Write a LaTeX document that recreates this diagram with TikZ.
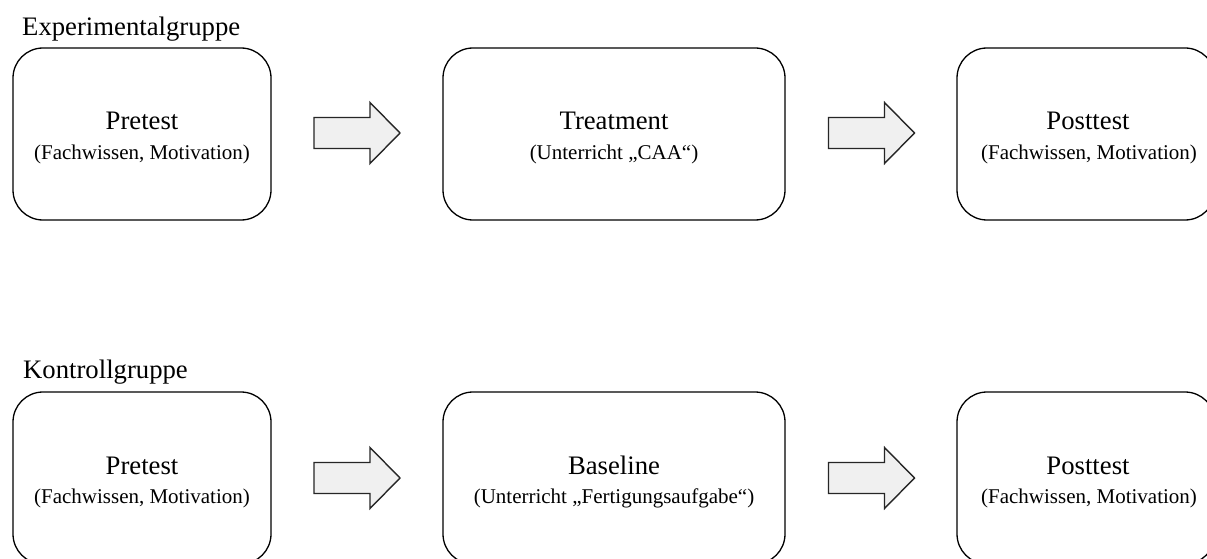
\documentclass[tikz,border=0pt]{standalone}
\usepackage{fontspec}
\setmainfont{Liberation Serif}
\begin{document}
\begin{tikzpicture}[x=1pt,y=-1pt,
  box/.style={draw=black, line width=1.3pt, rounded corners=30pt, minimum width=#1, minimum height=172pt, inner sep=0pt},
  maintxt/.style={font=\fontsize{26.7}{30}\selectfont, inner sep=0pt, anchor=base},
  subtxt/.style={font=\fontsize{21}{25}\selectfont, inner sep=0pt, anchor=base},
  grouptxt/.style={font=\fontsize{26.7}{30}\selectfont, inner sep=0pt, anchor=base west},
  arrowstyle/.style={draw=black!85, fill=black!6, line width=1.4pt, line join=miter},
  blockarrow/.pic={\draw[arrowstyle] (43,0) -- (13,-30.5) -- (13,-15.5) -- (-43,-15.5) -- (-43,15.5) -- (13,15.5) -- (13,30.5) -- cycle;}
]
\clip (0,0) rectangle (1207,559);
\fill[white] (0,0) rectangle (1207,559);

% Experimentalgruppe
\node[grouptxt] (g1) at (22,36) {Experimentalgruppe};
\node[box=258pt] (e1) at (142,134) {};
\node[box=342pt] (e2) at (614,134) {};
\node[box=258pt] (e3) at (1086,134) {};
\node[maintxt] (e1m) at (e1.center |- 0,130) {Pretest};
\node[subtxt]  (e1s) at (e1.center |- 0,160) {(Fachwissen, Motivation)};
\node[maintxt] (e2m) at (e2.center |- 0,130) {Treatment};
\node[subtxt]  (e2s) at (e2.center |- 0,159) {(Unterricht „CAA“)};
\node[maintxt] (e3m) at (1088,130) {Posttest};
\node[subtxt]  (e3s) at (1089,160) {(Fachwissen, Motivation)};
\coordinate (ea1) at (357,133);
\coordinate (ea2) at (871.5,133);
\pic at (ea1) {blockarrow};
\pic at (ea2) {blockarrow};

% Kontrollgruppe
\node[grouptxt] (g2) at (23,378) {Kontrollgruppe};
\node[box=258pt] (k1) at (142,478) {};
\node[box=342pt] (k2) at (614,478) {};
\node[box=258pt] (k3) at (1086,478) {};
\node[maintxt] (k1m) at (k1.center |- 0,474) {Pretest};
\node[subtxt]  (k1s) at (k1.center |- 0,503) {(Fachwissen, Motivation)};
\node[maintxt] (k2m) at (k2.center |- 0,474) {Baseline};
\node[subtxt]  (k2s) at (k2.center |- 0,503) {(Unterricht „Fertigungsaufgabe“)};
\node[maintxt] (k3m) at (1088,474) {Posttest};
\node[subtxt]  (k3s) at (1089,503) {(Fachwissen, Motivation)};
\coordinate (ka1) at (357,478);
\coordinate (ka2) at (871.5,478);
\pic at (ka1) {blockarrow};
\pic at (ka2) {blockarrow};
\end{tikzpicture}
\end{document}
